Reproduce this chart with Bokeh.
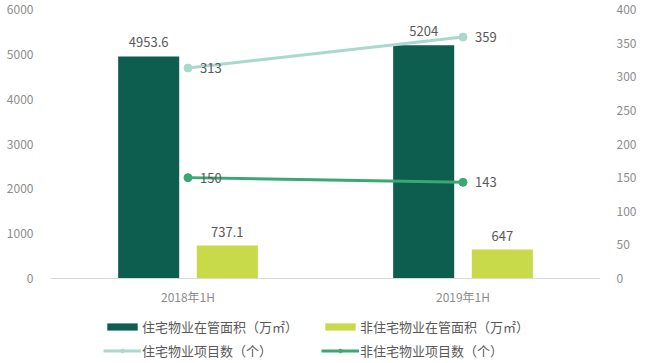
from bokeh.plotting import figure
from bokeh.models import (ColumnDataSource, Range1d, LinearAxis, FactorRange,
                          Legend, LegendItem, FixedTicker, LabelSet, Span)
from bokeh.transform import dodge
from bokeh.core.properties import value
from bokeh.embed import file_html
from bokeh.resources import INLINE

periods = ["2018年1H", "2019年1H"]
res_area = [4953.6, 5204]
nonres_area = [737.1, 647]
res_projects = [313, 359]
nonres_projects = [150, 143]

res_area_lbl = ["4953.6", "5204"]
nonres_area_lbl = ["737.1", "647"]
res_proj_lbl = ["313", "359"]
nonres_proj_lbl = ["150", "143"]
left_ticks = [0, 1000, 2000, 3000, 4000, 5000, 6000]
right_ticks = [0, 50, 100, 150, 200, 250, 300, 350, 400]

FONT = "Noto Sans CJK SC"
DARK = "#0e5e4f"
LIME = "#c8d94a"
LIGHTLINE = "#a9d9cd"
MIDLINE = "#3aa872"
LBL = "#595959"
AX = "#8c8c8c"

src = ColumnDataSource(dict(
    period=periods, zero=[0] * len(periods),
    res_area=res_area, nonres_area=nonres_area,
    res_projects=res_projects, nonres_projects=nonres_projects,
    res_area_lbl=res_area_lbl, nonres_area_lbl=nonres_area_lbl,
    res_proj_lbl=res_proj_lbl, nonres_proj_lbl=nonres_proj_lbl,
))

# frame: 269 px for 0..6000, 85 px extra below zero for category labels + legend
BELOW = 85 / 269.0
p = figure(width=650, height=363, output_backend="svg", toolbar_location=None,
           x_range=FactorRange(*periods, range_padding=0),
           y_range=Range1d(-6000 * BELOW, 6000),
           min_border_left=50, min_border_right=50, min_border_top=9,
           min_border_bottom=0)
p.extra_y_ranges = {"right": Range1d(-400 * BELOW, 400)}
p.outline_line_color = None
p.grid.grid_line_color = None
p.background_fill_color = "white"
p.xaxis.visible = False

p.add_layout(Span(location=0, dimension="width", line_color="#d9d9d9", line_width=1))

b1 = p.vbar(x=dodge("period", -0.143, range=p.x_range), top="res_area", width=0.222,
            source=src, fill_color=DARK, line_color=None)
b2 = p.vbar(x=dodge("period", 0.143, range=p.x_range), top="nonres_area", width=0.222,
            source=src, fill_color=LIME, line_color=None)

l1 = p.line(x="period", y="res_projects", source=src, line_color=LIGHTLINE,
            line_width=3, y_range_name="right")
s1 = p.scatter(x="period", y="res_projects", source=src, fill_color=LIGHTLINE,
               line_color=LIGHTLINE, size=8, y_range_name="right")
l2 = p.line(x="period", y="nonres_projects", source=src, line_color=MIDLINE,
            line_width=3, y_range_name="right")
s2 = p.scatter(x="period", y="nonres_projects", source=src, fill_color=MIDLINE,
               line_color=MIDLINE, size=8, y_range_name="right")

common = dict(text_font=value(FONT), text_font_size="13px", text_color=LBL)
p.add_layout(LabelSet(x=dodge("period", -0.143, range=p.x_range), y="res_area",
                      text="res_area_lbl", source=src, text_align="center",
                      text_baseline="bottom", y_offset=9, **common))
p.add_layout(LabelSet(x=dodge("period", 0.143, range=p.x_range), y="nonres_area",
                      text="nonres_area_lbl", source=src, text_align="center",
                      text_baseline="bottom", y_offset=8, **common))
p.add_layout(LabelSet(x="period", y="res_projects", text="res_proj_lbl", source=src,
                      y_range_name="right", text_align="left",
                      text_baseline="middle", x_offset=12, **common))
p.add_layout(LabelSet(x="period", y="nonres_projects", text="nonres_proj_lbl",
                      source=src, y_range_name="right", text_align="left",
                      text_baseline="middle", x_offset=12, **common))
# category labels (x axis)
p.add_layout(LabelSet(x="period", y="zero", text="period", source=src,
                      text_align="center", text_baseline="middle", y_offset=-18,
                      text_font=value(FONT), text_font_size="12px", text_color=AX))

# value axes
p.yaxis.ticker = FixedTicker(ticks=left_ticks)
ry = LinearAxis(y_range_name="right", ticker=FixedTicker(ticks=right_ticks))
p.add_layout(ry, "right")
for ax in (p.yaxis[0], ry):
    ax.axis_line_color = None
    ax.major_tick_line_color = None
    ax.minor_tick_line_color = None
    ax.major_label_text_color = AX
    ax.major_label_text_font = FONT
    ax.major_label_text_font_size = "12px"
p.yaxis[0].major_label_standoff = 11
ry.major_label_standoff = 10

legend = Legend(items=[
    LegendItem(label="住宅物业在管面积（万㎡）", renderers=[b1]),
    LegendItem(label="非住宅物业在管面积（万㎡）", renderers=[b2]),
    LegendItem(label="住宅物业项目数（个）", renderers=[l1, s1]),
    LegendItem(label="非住宅物业项目数（个）", renderers=[l2, s2]),
], location=(53, 3), orientation="horizontal", ncols=2,
    glyph_width=38, glyph_height=9, label_height=20, label_width=175,
    label_standoff=1, spacing=4, padding=0, margin=0,
    label_text_font=FONT, label_text_font_size="13px", label_text_color=LBL,
    border_line_color=None, background_fill_alpha=0)
p.add_layout(legend, "center")

open("out.html", "w").write(file_html(p, INLINE))
